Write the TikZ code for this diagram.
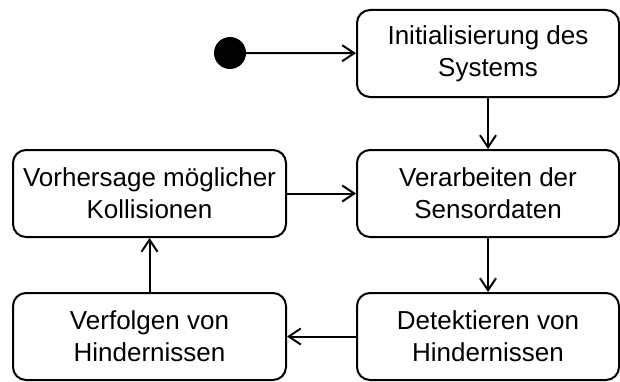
\documentclass[tikz,border=0pt]{standalone}
\usepackage{fontspec}
\setmainfont{Liberation Sans}
\usetikzlibrary{arrows.meta}
\begin{document}
\begin{tikzpicture}[x=1pt,y=1pt,
    zustand/.style={draw,line width=2pt,rounded corners=13pt,align=center,
        minimum height=87pt,inner sep=0pt,font=\fontsize{26}{32}\selectfont},
    links/.style={zustand,minimum width=273pt},
    rechts/.style={zustand,minimum width=262pt},
    pfeil/.style={line width=2pt,-{Straight Barb[length=12pt,width=16pt]}}]
\useasboundingbox (0,0) rectangle (620,381);

\node (start) [circle,fill,minimum size=32pt,inner sep=0pt] at (230,328) {};

\node (init) [rechts] at (488,327.5) {Initialisierung des\\Systems};
\node (verarb) [rechts] at (488,187.5) {Verarbeiten der\\Sensordaten};
\node (detekt) [rechts] at (488,44.5) {Detektieren von\\Hindernissen};
\node (verfolg) [links] at (149.5,44.5) {Verfolgen von\\Hindernissen};
\node (vorher) [links] at (149.5,187.5) {Vorhersage möglicher\\Kollisionen};

\draw [pfeil] (start) -- (init);
\draw [pfeil] (init) -- (verarb);
\draw [pfeil] (verarb) -- (detekt);
\draw [pfeil] (detekt) -- (verfolg);
\draw [pfeil] (verfolg) -- (vorher);
\draw [pfeil] (vorher) -- (verarb);
\end{tikzpicture}
\end{document}
